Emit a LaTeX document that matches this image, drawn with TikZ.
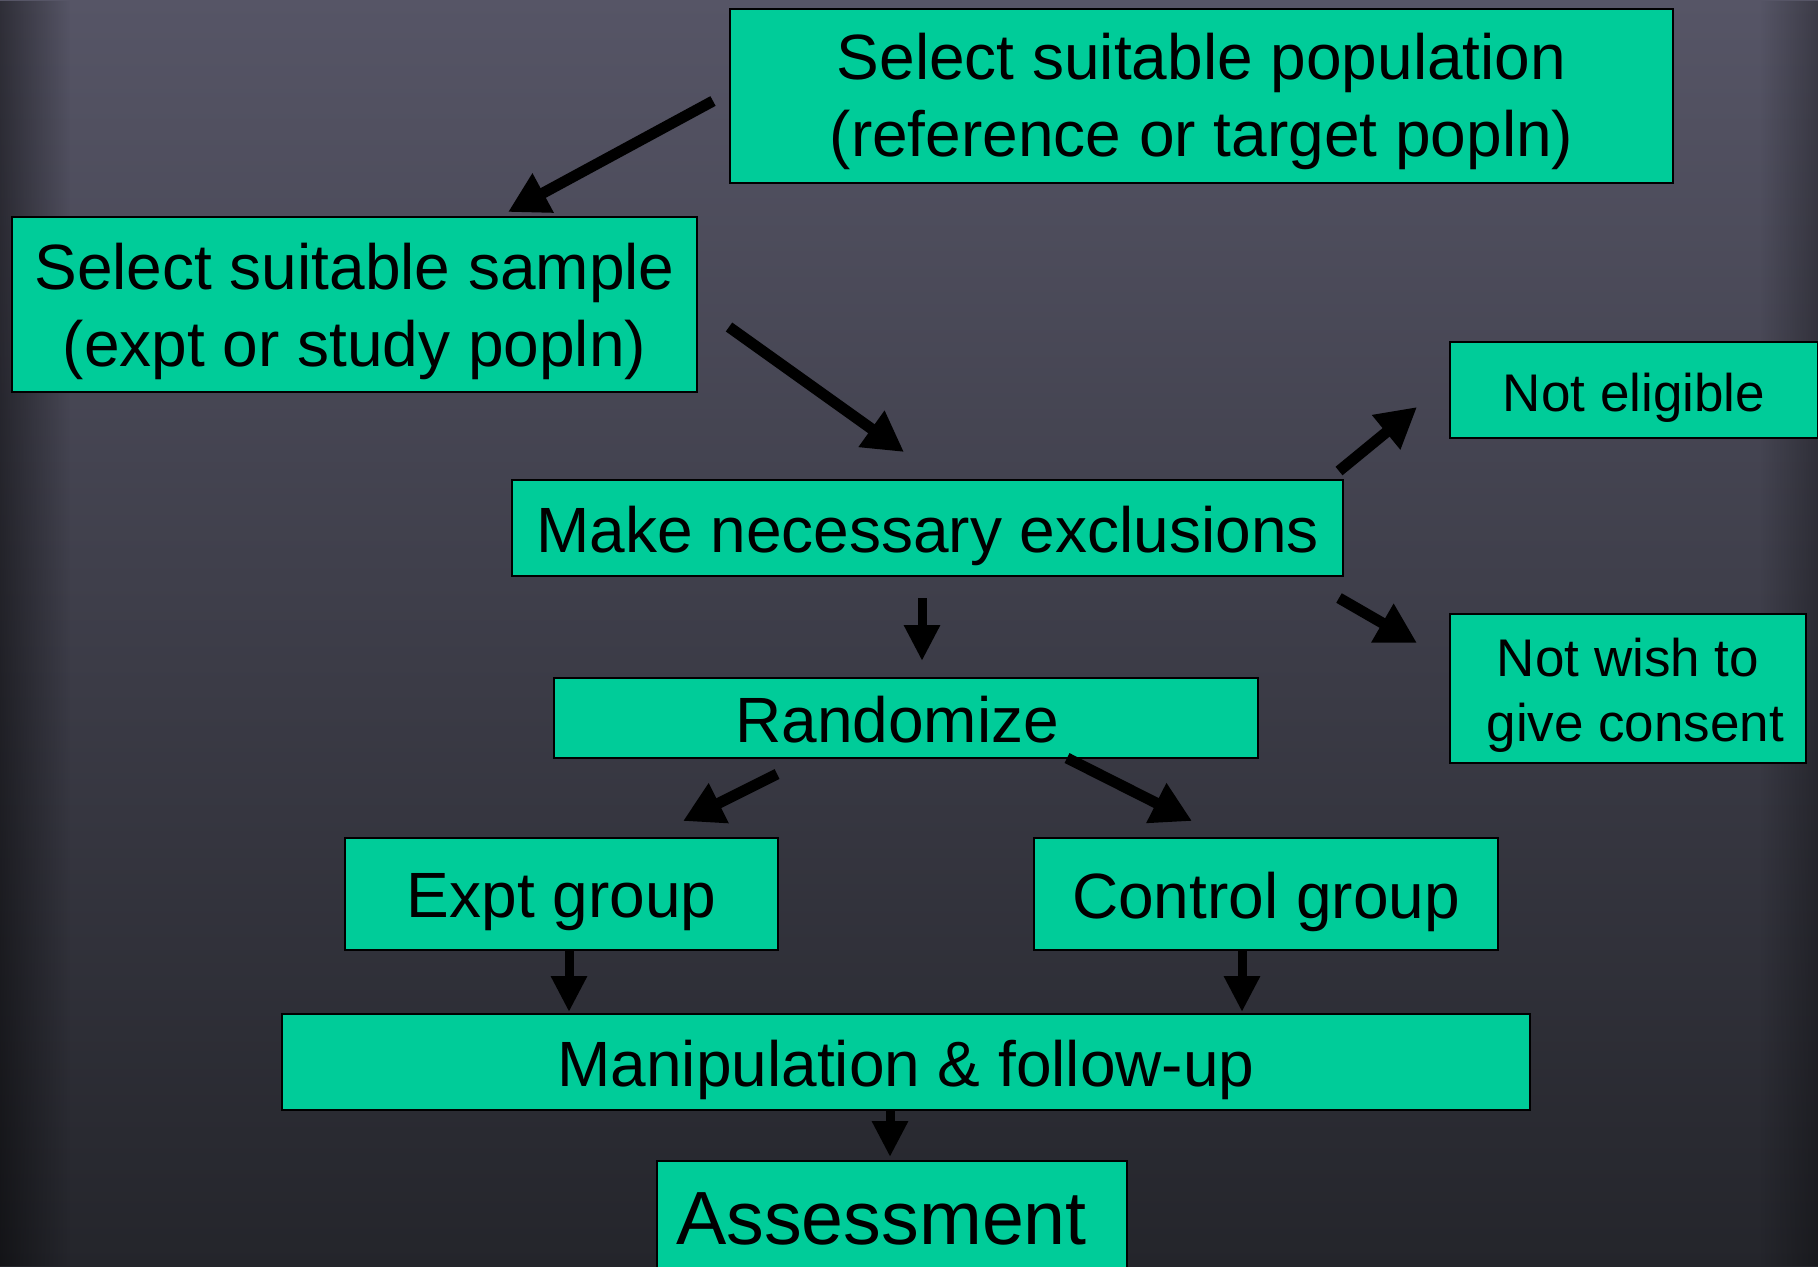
\documentclass[tikz,border=0pt]{standalone}
\usepackage{fontspec}
\setmainfont{Liberation Sans}
\usetikzlibrary{arrows.meta,fadings}
\definecolor{boxgreen}{HTML}{00CC99}
\definecolor{bgtop}{HTML}{565566}
\definecolor{bgbot}{HTML}{24252B}
\newcommand\lowertext[2][4pt]{\raisebox{-#1}[\height][\depth]{#2}}
\newcommand\twolines[2]{\begin{tabular}{@{}c@{}}#1\\#2\end{tabular}}
\begin{document}
\begin{tikzpicture}[x=0.5pt,y=-0.5pt,
 box/.style={draw=black, line width=1.2pt, fill=boxgreen, inner sep=0pt, font=\fontsize{32}{38.5}\selectfont},
 smallbox/.style={box, font=\fontsize{26.5}{32.5}\selectfont},
 arr/.style={line width=5.5pt, -{Triangle[length=20pt,width=21pt]}},
 varr/.style={line width=4.5pt, -{Triangle[length=18pt,width=17pt]}}]
\useasboundingbox (0,0) rectangle (1818,1266);
\shade[top color=bgtop, bottom color=bgbot] (0,0) rectangle (1818,1266);
\fill[black, opacity=0.45, path fading=east] (0,0) rectangle (70,1266);
\fill[black, opacity=0.3, path fading=west] (1760,0) rectangle (1818,1266);

\node[box, minimum width=471.5pt, minimum height=87pt] (pop) at (1201.5,96) {\lowertext[3.5pt]{\twolines{Select suitable population}{(reference or target popln)}}};
\node[box, minimum width=342.5pt, minimum height=87.5pt] (sample) at (354.5,304.5) {\lowertext{\twolines{Select suitable sample}{(expt or study popln)}}};
\node[box, minimum width=415.5pt, minimum height=48pt] (excl) at (927.5,528) {\lowertext{Make necessary exclusions}};
\node[smallbox, minimum width=184pt, minimum height=48pt] (nelig) at (1634,390) {\lowertext{Not eligible}};
\node[smallbox, minimum width=178pt, minimum height=74.5pt] (nwish) at (1628,688.5) {\lowertext[3.5pt]{\twolines{Not wish to}{\ give consent}}};
\node[box, minimum width=352pt, minimum height=40pt] (rand) at (906,718) {\lowertext[1pt]{Randomize\ }};
\node[box, minimum width=216.5pt, minimum height=56pt] (expt) at (561.5,894) {\lowertext{Expt group}};
\node[box, minimum width=232pt, minimum height=56pt] (ctrl) at (1266,894) {\lowertext{Control group}};
\node[box, minimum width=624pt, minimum height=48pt] (manip) at (906,1062) {\lowertext{Manipulation \& follow-up}};
\node[box, minimum width=235pt, minimum height=56pt, font=\fontsize{37.7}{44}\selectfont] (assess) at (892,1217) {\lowertext[1pt]{Assessment\ }};

\coordinate (a1s) at (713,101);  \coordinate (a1e) at (508,212);
\coordinate (a2s) at (729,327);  \coordinate (a2e) at (904,452);
\coordinate (a3s) at (922,598);  \coordinate (a3e) at (922,661);
\coordinate (a4s) at (1339,471); \coordinate (a4e) at (1417,407);
\coordinate (a5s) at (1339,598); \coordinate (a5e) at (1417,643);
\coordinate (a6s) at (777,774);  \coordinate (a6e) at (683,821);
\coordinate (a7s) at (1067,758); \coordinate (a7e) at (1192,821);
\coordinate (a8s) at (569,951);  \coordinate (a8e) at (569,1012);
\coordinate (a9s) at (1242,951); \coordinate (a9e) at (1242,1012);
\coordinate (a10s) at (890,1110); \coordinate (a10e) at (890,1157);

\draw[arr] (a1s) -- (a1e);
\draw[arr] (a2s) -- (a2e);
\draw[varr] (a3s) -- (a3e);
\draw[arr] (a4s) -- (a4e);
\draw[arr] (a5s) -- (a5e);
\draw[arr] (a6s) -- (a6e);
\draw[arr] (a7s) -- (a7e);
\draw[varr] (a8s) -- (a8e);
\draw[varr] (a9s) -- (a9e);
\draw[varr] (a10s) -- (a10e);
\end{tikzpicture}
\end{document}
